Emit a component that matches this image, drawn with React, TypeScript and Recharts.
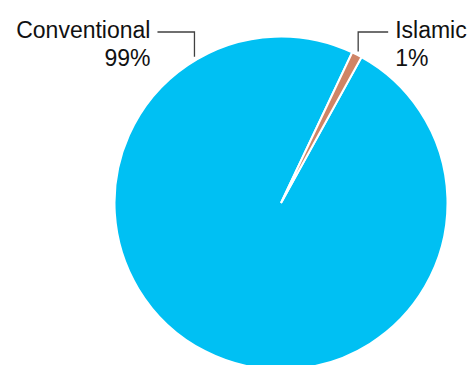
import React from "react";
import { PieChart, Pie, Cell } from "recharts";

const categories = ["Conventional", "Islamic"];
const shares = [99, 1];
const percentLabels = ["99%", "1%"];
const colors = ["#00C0F3", "#CF8466"];

const data = categories.map((name, i) => ({ name, value: shares[i] }));

// label leader config: angle clockwise from top (deg), horizontal direction
const labelCfg = [
  { angle: -30.6, dir: -1, len: 37 },
  { angle: 27, dir: 1, len: 30 },
];

const RAD = Math.PI / 180;

const renderLabel = (props: any) => {
  const { cx, cy, outerRadius, index } = props;
  const cfg = labelCfg[index];
  const r = outerRadius + 3.5;
  const sx = cx + r * Math.sin(cfg.angle * RAD);
  const sy = cy - r * Math.cos(cfg.angle * RAD);
  const ey = cy - 171;
  const ex = sx + cfg.dir * cfg.len;
  const tx = ex + cfg.dir * 7;
  const anchor = cfg.dir < 0 ? "end" : "start";
  return (
    <g key={`lbl-${index}`}>
      <polyline
        points={`${sx},${sy} ${sx},${ey} ${ex},${ey}`}
        fill="none"
        stroke="#404040"
        strokeWidth={1.3}
      />
      <text
        x={tx}
        y={ey + 6}
        textAnchor={anchor}
        fontFamily="'Liberation Sans', Arial, sans-serif"
        fontSize={23}
        fill="#111"
      >
        {categories[index]}
      </text>
      <text
        x={tx}
        y={ey + 34}
        textAnchor={anchor}
        fontFamily="'Liberation Sans', Arial, sans-serif"
        fontSize={23}
        fill="#111"
      >
        {percentLabels[index]}
      </text>
    </g>
  );
};

export default function App() {
  return (
    <div style={{ position: "absolute", left: 0, top: 0, width: 472, height: 365, background: "#fff" }}>
      <PieChart width={472} height={365} margin={{ top: 0, right: 0, bottom: 0, left: 0 }}>
        <Pie
          data={data}
          dataKey="value"
          nameKey="name"
          cx={281}
          cy={203}
          innerRadius={0}
          outerRadius={166.5}
          startAngle={61.1}
          endAngle={-298.9}
          stroke="#ffffff"
          strokeWidth={2}
          label={renderLabel}
          labelLine={false}
          isAnimationActive={false}
        >
          {data.map((d, i) => (
            <Cell key={d.name} fill={colors[i]} />
          ))}
        </Pie>
      </PieChart>
    </div>
  );
}
